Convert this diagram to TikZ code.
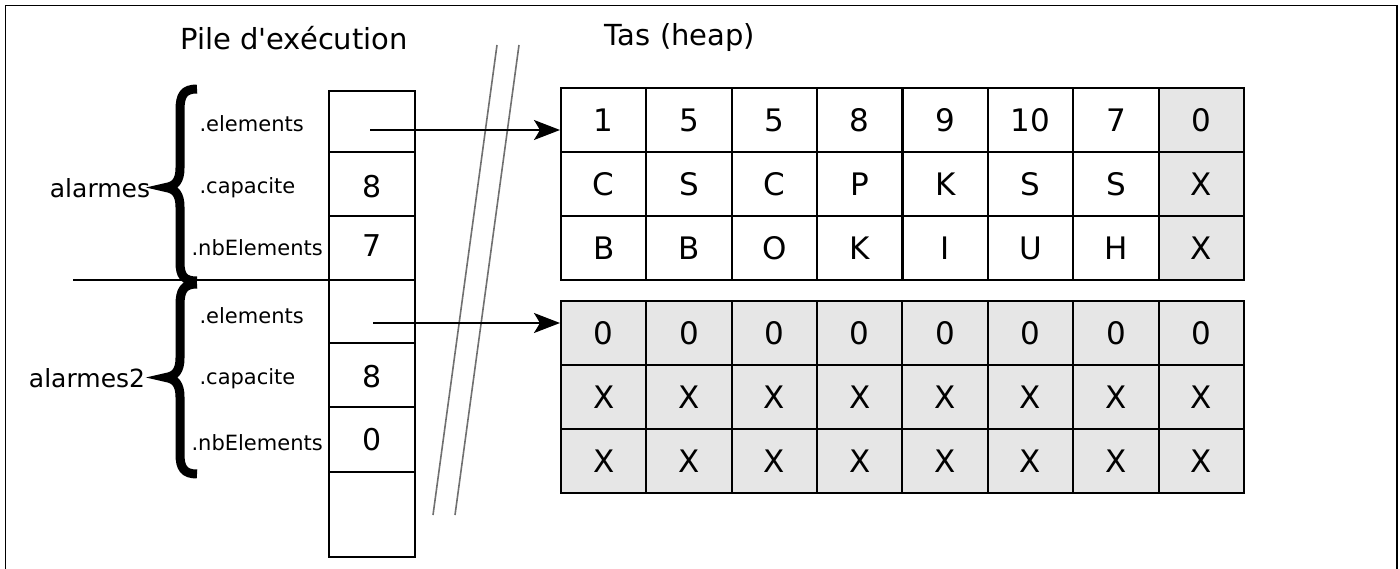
\documentclass[tikz,border=0pt]{standalone}
\usepackage{fontspec}
\setmainfont{DejaVu Sans}
\newfontfamily\dejavu{DejaVu Sans}
\usetikzlibrary{arrows.meta}
\definecolor{cellgray}{HTML}{E6E6E6}
\definecolor{cutgray}{HTML}{707070}
\begin{document}
\begin{tikzpicture}[x=1pt,y=-1pt,
  cell/.style={draw, line width=2pt, minimum width=85.4pt, minimum height=64pt, inner sep=0pt, font=\dejavu\fontsize{31}{36}\selectfont},
  gcell/.style={cell, fill=cellgray},
  scell/.style={draw, line width=2pt, minimum width=86pt, inner sep=0pt},
  title/.style={font=\dejavu\fontsize{29}{34}\selectfont},
  varname/.style={font=\dejavu\fontsize{25}{30}\selectfont},
  field/.style={font=\dejavu\fontsize{21}{25}\selectfont, anchor=west},
  value/.style={font=\dejavu\fontsize{30}{35}\selectfont},
  brace/.style={line width=9pt, line cap=butt},
  cut/.style={draw=cutgray, line width=1.6pt},
  ptr/.style={line width=1.6pt, -{Stealth[length=26pt,width=20pt,inset=6pt]}}]
\useasboundingbox (0,0) rectangle (1400,569);
% frame
\draw[line width=1.6pt] (5.5,585) -- (5.5,5.5) -- (1397,5.5) -- (1397,585);
% titles
\node[title] (tpile) at (294,38) {Pile d'exécution};
\node[title] (ttas) at (680,38) {Tas (heap)};
% cut lines
\draw[cut] (497,45) -- (433,515);
\draw[cut] (519,45) -- (455,515);
% stack
\node[scell, minimum height=61pt] (s1) at (372,121.5) {};
\node[scell, minimum height=64pt] (s2) at (372,184) {};
\node[scell, minimum height=64pt] (s3) at (372,248) {};
\node[scell, minimum height=63pt] (s4) at (372,311.5) {};
\node[scell, minimum height=64pt] (s5) at (372,375) {};
\node[scell, minimum height=65pt] (s6) at (372,439.5) {};
\node[scell, minimum height=85pt] (s7) at (372,514.5) {};
\node[value] (v1) at (372,187) {8};
\node[value] (v2) at (372,246) {7};
\node[value] (v3) at (372,377) {8};
\node[value] (v4) at (372,440) {0};
% separator
\coordinate (sepL) at (73,280);
\draw[line width=2pt] (sepL) -- (sepL -| s4.west);
% fields
\node[field] (f1) at (196,124) {.elements};
\node[field] (f2) at (196,188) {.capacite};
\node[field] (f3) at (188,248) {.nbElements};
\node[field] (f4) at (196,316) {.elements};
\node[field] (f5) at (196,379) {.capacite};
\node[field] (f6) at (188,443) {.nbElements};
% variable names
\node[varname] (n1) at (100,188) {alarmes};
\node[varname] (n2) at (87,378) {alarmes2};
% braces
\draw[brace] (197,89) .. controls (184,89) and (180,95) .. (180,110) -- (180,168)
  .. controls (180,181) and (175,186) .. (166,187.5)
  .. controls (175,189) and (180,194) .. (180,207) -- (180,262)
  .. controls (180,276) and (184,281) .. (197,281);
\draw[brace] (197,284) .. controls (184,284) and (180,290) .. (180,305) -- (180,358)
  .. controls (180,371) and (175,376) .. (166,377.5)
  .. controls (175,379) and (180,384) .. (180,397) -- (180,454)
  .. controls (180,468) and (184,474) .. (197,474);
% heap array 1
\foreach \v [count=\c] in {1,5,5,8,9,10,7}
  \node[cell] (a1-\c) at ({561+85.375*(\c-0.5)},120) {\v};
\node[gcell] (a1-8) at ({561+85.375*7.5},120) {0};
\foreach \v [count=\c] in {C,S,C,P,K,S,S}
  \node[cell] (b1-\c) at ({561+85.375*(\c-0.5)},184) {\v};
\node[gcell] (b1-8) at ({561+85.375*7.5},184) {X};
\foreach \v [count=\c] in {B,B,O,K,I,U,H}
  \node[cell] (c1-\c) at ({561+85.375*(\c-0.5)},248) {\v};
\node[gcell] (c1-8) at ({561+85.375*7.5},248) {X};
% heap array 2
\foreach \c in {1,...,8}{
  \node[gcell] (a2-\c) at ({561+85.375*(\c-0.5)},333) {0};
  \node[gcell] (b2-\c) at ({561+85.375*(\c-0.5)},397) {X};
  \node[gcell] (c2-\c) at ({561+85.375*(\c-0.5)},461) {X};
}
% pointers
\coordinate (p1) at (370,130);
\coordinate (p2) at (373,323);
\draw[ptr] (p1) -- (p1 -| a1-1.west);
\draw[ptr] (p2) -- (p2 -| a2-1.west);
\end{tikzpicture}
\end{document}
